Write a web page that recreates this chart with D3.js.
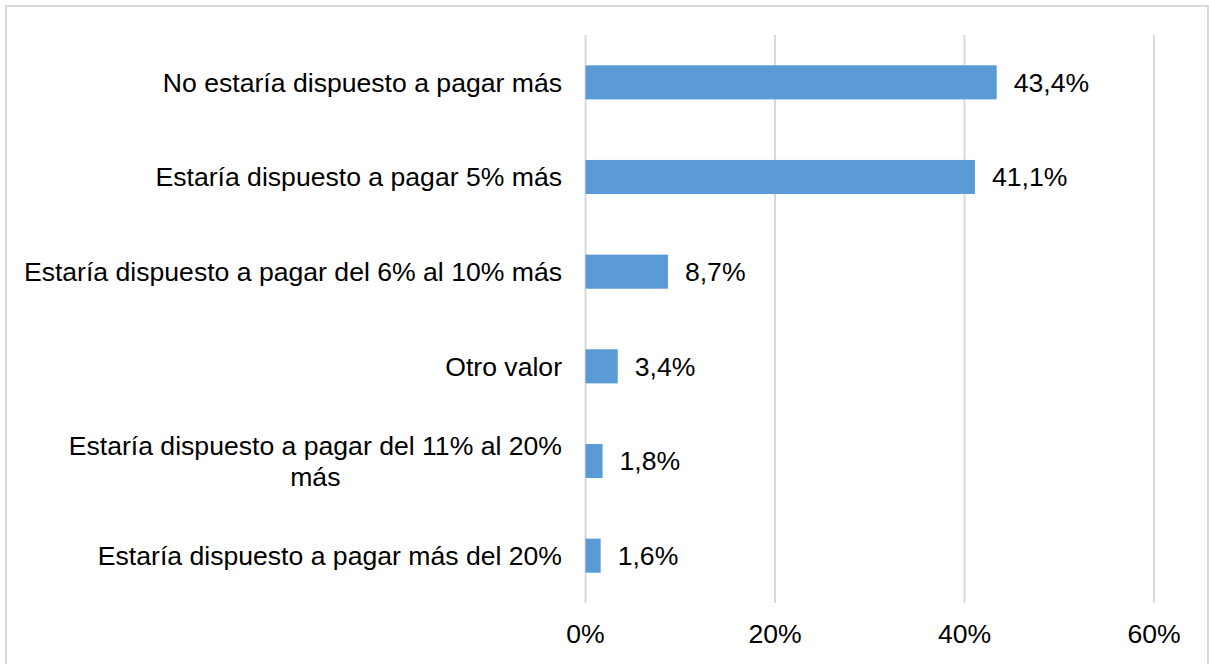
<!DOCTYPE html>
<html lang="es">
<head>
<meta charset="UTF-8">
<title>Disposición a pagar</title>
<style>
  body { margin: 0; background: #fff; }
  text { font-family: "Liberation Sans", Arial, sans-serif; fill: #000; }
</style>
</head>
<body>
<script src="https://cdn.jsdelivr.net/npm/d3@7"></script>
<script>
// datos
var categorias = [
  "No estaría dispuesto a pagar más",
  "Estaría dispuesto a pagar 5% más",
  "Estaría dispuesto a pagar del 6% al 10% más",
  "Otro valor",
  "Estaría dispuesto a pagar del 11% al 20% más",
  "Estaría dispuesto a pagar más del 20%"
];
var valores = [43.4, 41.1, 8.7, 3.4, 1.8, 1.6];
var etiquetas = ["43,4%", "41,1%", "8,7%", "3,4%", "1,8%", "1,6%"];
var ticks = [0, 20, 40, 60];

var width = 1209, height = 664;
var fontSize = 26.6;
var labelRight = 562, wrapWidth = 544, lineH = 31;

var svg = d3.select('body').append('svg')
  .attr('width', width).attr('height', height);

// marco exterior
svg.append('rect')
  .attr('x', 6).attr('y', 6)
  .attr('width', 1202).attr('height', 680)
  .attr('fill', 'none')
  .attr('stroke', '#d9d9d9')
  .attr('stroke-width', 2);

var x = d3.scaleLinear().domain([0, 60]).range([585.5, 1154]);
var y = d3.scaleBand().domain(categorias).range([35, 603])
  .paddingInner(0.64).paddingOuter(0.32);

// rejilla
svg.selectAll('.grid')
  .data(ticks)
  .enter().append('line')
  .attr('class', 'grid')
  .attr('x1', function(d) { return x(d); })
  .attr('x2', function(d) { return x(d); })
  .attr('y1', 35).attr('y2', 603)
  .attr('stroke', '#d9d9d9')
  .attr('stroke-width', 2);

// etiquetas del eje x
svg.selectAll('.tick')
  .data(ticks)
  .enter().append('text')
  .attr('class', 'tick')
  .attr('x', function(d) { return x(d); })
  .attr('y', 643)
  .attr('text-anchor', 'middle')
  .style('font-size', fontSize + 'px')
  .text(function(d) { return d + '%'; });

// barras
svg.selectAll('.bar')
  .data(valores)
  .enter().append('rect')
  .attr('class', 'bar')
  .attr('x', x(0))
  .attr('y', function(d, i) { return y(categorias[i]); })
  .attr('width', function(d) { return x(d) - x(0); })
  .attr('height', y.bandwidth())
  .attr('fill', '#5b9bd5');

// valores
svg.selectAll('.valor')
  .data(valores)
  .enter().append('text')
  .attr('class', 'valor')
  .attr('x', function(d) { return x(d) + 17; })
  .attr('y', function(d, i) { return y(categorias[i]) + y.bandwidth() / 2; })
  .attr('dy', '0.35em')
  .style('font-size', fontSize + 'px')
  .text(function(d, i) { return etiquetas[i]; });

// categorias (con ajuste de línea)
var medir = svg.append('text').style('font-size', fontSize + 'px');
function ancho(s) { medir.text(s); return medir.node().getComputedTextLength(); }

categorias.forEach(function(c) {
  var palabras = c.split(' '), lineas = [], actual = '';
  palabras.forEach(function(p) {
    var prueba = actual ? actual + ' ' + p : p;
    if (actual && ancho(prueba) > wrapWidth) { lineas.push(actual); actual = p; }
    else actual = prueba;
  });
  lineas.push(actual);
  var cy = y(c) + y.bandwidth() / 2;
  var t = svg.append('text').style('font-size', fontSize + 'px');
  if (lineas.length === 1) {
    t.attr('text-anchor', 'end').attr('x', labelRight).attr('y', cy).attr('dy', '0.35em').text(c);
  } else {
    var maxW = d3.max(lineas, ancho);
    var cx = labelRight - maxW / 2;
    t.attr('text-anchor', 'middle');
    lineas.forEach(function(l, k) {
      t.append('tspan')
        .attr('x', cx)
        .attr('y', cy + (k - (lineas.length - 1) / 2) * lineH)
        .attr('dy', '0.35em')
        .text(l);
    });
  }
});
medir.remove();
</script>
</body>
</html>
